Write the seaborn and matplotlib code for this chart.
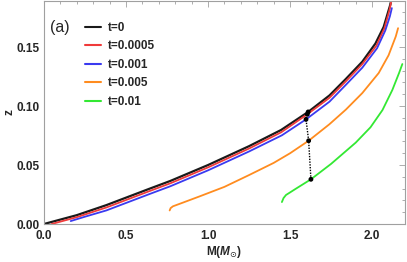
import numpy as np
import pandas as pd
import seaborn as sns
import matplotlib.pyplot as plt
from matplotlib.ticker import MultipleLocator


# valores: M (massa solar) vs z
m_t0 = [0.0, 0.2, 0.38, 0.645, 0.77, 1.0, 1.25, 1.445, 1.61, 1.74, 1.84, 1.94, 2.02, 2.07, 2.10, 2.113]
z_t0 = [0.0, 0.0075, 0.016, 0.030, 0.0365, 0.050, 0.066, 0.0797, 0.095, 0.109, 0.123, 0.1376, 0.153, 0.167, 0.181, 0.187]

m_t00005 = [0.047, 0.2, 0.38, 0.645, 0.77, 1.0, 1.25, 1.445, 1.605, 1.74, 1.84, 1.94, 2.025, 2.075, 2.105, 2.117]
z_t00005 = [0.0, 0.0058, 0.014, 0.028, 0.0345, 0.048, 0.064, 0.0777, 0.093, 0.107, 0.121, 0.1356, 0.151, 0.166, 0.181, 0.189]

m_t0001 = [0.163, 0.25, 0.38, 0.645, 0.77, 1.0, 1.25, 1.45, 1.597, 1.74, 1.84, 1.94, 2.03, 2.08, 2.108, 2.12]
z_t0001 = [0.0025, 0.0062, 0.0115, 0.0255, 0.032, 0.0455, 0.0615, 0.0752, 0.0887, 0.1037, 0.118, 0.1325, 0.149, 0.164, 0.176, 0.183]

m_t0005 = [0.766, 0.772, 0.786, 0.85, 0.95, 1.1, 1.25, 1.4, 1.5, 1.613, 1.739, 1.84, 1.94, 2.04, 2.10, 2.144, 2.158]
z_t0005 = [0.0115, 0.0135, 0.0150, 0.0183, 0.0235, 0.0315, 0.0415, 0.0518, 0.0600, 0.0706, 0.0845, 0.097, 0.111, 0.128, 0.143, 0.159, 0.166]

m_t001 = [1.45, 1.46, 1.475, 1.50, 1.536, 1.627, 1.75, 1.90, 1.99, 2.063, 2.123, 2.164, 2.184]
z_t001 = [0.0186, 0.022, 0.0246, 0.0268, 0.030, 0.0379, 0.051, 0.069, 0.082, 0.0966, 0.1136, 0.128, 0.1356]

# pontos ligados pela linha pontilhada
m_pontos = [1.61, 1.605, 1.597, 1.613, 1.627]
z_pontos = [0.095, 0.093, 0.0887, 0.0706, 0.0379]

rotulos = ["t=0", "t=0.0005", "t=0.001", "t=0.005", "t=0.01"]
cores = ["#1a1a1a", "#f03a3a", "#3a3af0", "#ff8c1f", "#33e833"]
series_m = [m_t0, m_t00005, m_t0001, m_t0005, m_t001]
series_z = [z_t0, z_t00005, z_t0001, z_t0005, z_t001]

sns.set_style("white")
plt.rcParams["font.family"] = ["Liberation Sans", "DejaVu Sans"]
plt.rcParams["mathtext.fontset"] = "custom"
plt.rcParams["mathtext.bfit"] = "Liberation Sans:bold:italic"
plt.rcParams["mathtext.bf"] = "Liberation Sans:bold"

fig = plt.figure(figsize=(4.07, 2.62), dpi=100)
ax = fig.add_axes([0.108, 0.145, 0.887, 0.851])

larguras = [1.6, 1.3, 1.3, 1.3, 1.3]
for m, z, rot, cor, lw in zip(series_m, series_z, rotulos, cores, larguras):
    df = pd.DataFrame({"M": m, "z": z})
    sns.lineplot(data=df, x="M", y="z", sort=False, color=cor, lw=lw,
                 label=rot, ax=ax)

df_p = pd.DataFrame({"M": m_pontos, "z": z_pontos})
sns.lineplot(data=df_p, x="M", y="z", sort=False, color="black", lw=1.0,
             linestyle=(0, (1, 1)), ax=ax)
sns.scatterplot(data=df_p, x="M", y="z", color="black", s=12, ax=ax,
                edgecolor="none", zorder=5)

ax.set_xlim(0, 2.2)
ax.set_ylim(0, 0.189)
ax.xaxis.set_major_locator(MultipleLocator(0.5))
ax.xaxis.set_minor_locator(MultipleLocator(0.1))
ax.yaxis.set_major_locator(MultipleLocator(0.05))
ax.yaxis.set_minor_locator(MultipleLocator(0.01))
ax.xaxis.set_major_formatter(plt.FormatStrFormatter("%.1f"))
ax.yaxis.set_major_formatter(plt.FormatStrFormatter("%.2f"))
ax.tick_params(which="both", direction="in", top=True, right=True,
               color="#a0a0a0", width=0.6)
ax.tick_params(which="major", length=4, labelsize=8.5)
ax.tick_params(axis="x", which="major", pad=4)
ax.tick_params(axis="y", which="major", pad=3)
ax.tick_params(which="minor", length=2)
for lab in ax.get_xticklabels() + ax.get_yticklabels():
    lab.set_fontweight("bold")
for s in ax.spines.values():
    s.set_color("#a0a0a0")
    s.set_linewidth(0.8)

ax.set_xlabel(r"M($\mathbfit{M}_{\odot}$)", fontsize=8.5, fontweight="bold", labelpad=2)
ax.set_ylabel("z", fontsize=8.5, fontweight="bold")
ax.yaxis.set_label_coords(-0.08, 0.5)

leg = ax.legend(loc="upper left", bbox_to_anchor=(0.085, 0.955), frameon=False,
                handlelength=1.3, handletextpad=0.6, labelspacing=0.55,
                prop={"size": 8.5, "weight": "bold"})
for ln in leg.get_lines():
    ln.set_linewidth(1.5)
ax.text(0.018, 0.915, "(a)", transform=ax.transAxes, fontsize=11.5, va="top")

fig.savefig("out.png", dpi=100)
